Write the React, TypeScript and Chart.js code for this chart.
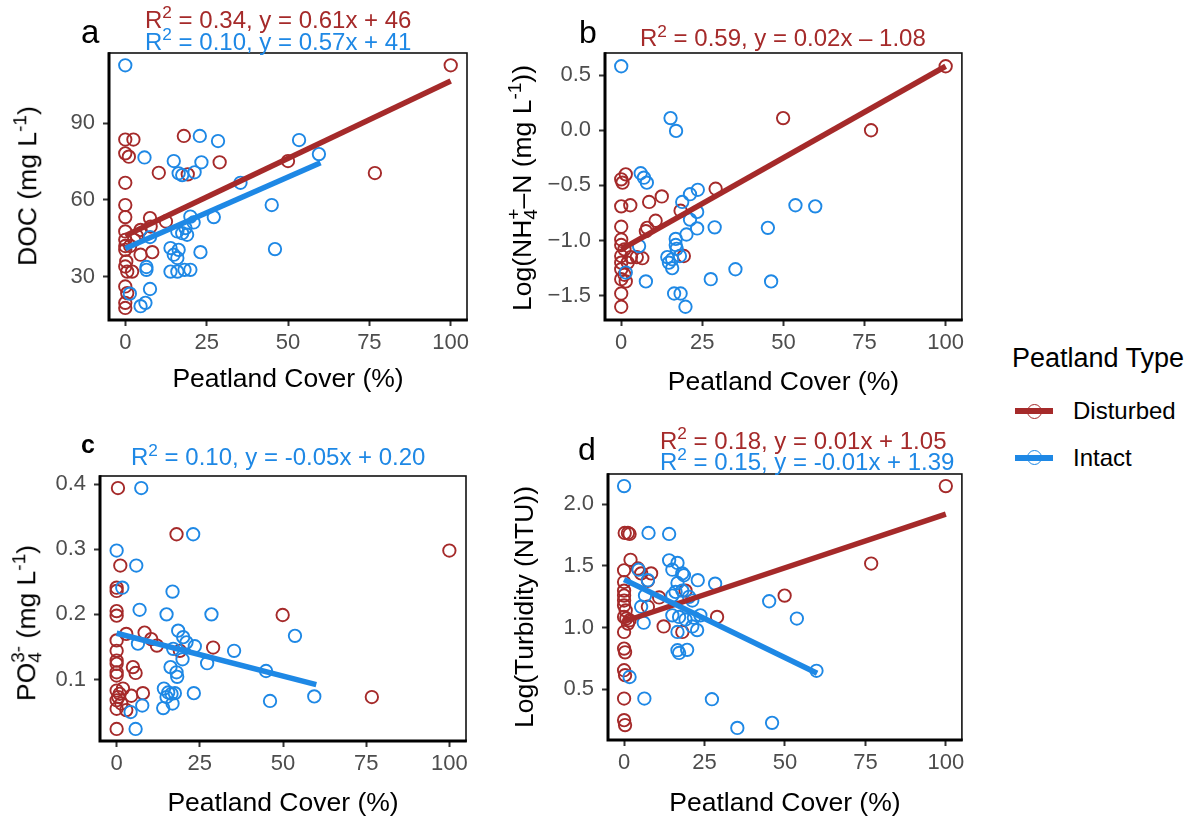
import React, { useEffect, useRef } from "react";
import { Chart, registerables } from "chart.js";
Chart.register(...registerables);

// ---------------- data ----------------
const peatTicks = [0, 25, 50, 75, 100];
const docTicks = [30, 60, 90];
const nh4Ticks = [-1.5, -1.0, -0.5, 0.0, 0.5];
const po4Ticks = [0.1, 0.2, 0.3, 0.4];
const turbTicks = [0.5, 1.0, 1.5, 2.0];

// a: DOC
const docDisturbedX = [100, 76.7, 50, 18, 29, 10.3, 19.2, 0, 2.5, 0, 1.1, 0, 0, 0, 7.6, 0, 4.7, 7.8, 12.5, 0, 2.7, 0, 4.7, 8.3, 0, 0.6, 2.1, 0, 0.6, 0, 0, 0.3, 1.5, 0, 3.5];
const docDisturbedY = [112.6, 70.5, 75.2, 85, 74.7, 70.6, 70, 83.6, 83.6, 78.2, 76.9, 66.7, 58, 53.3, 52.9, 47.7, 48.3, 49.6, 51.6, 44.4, 44.4, 40.5, 38.6, 39.6, 34, 32, 32, 26.2, 23.6, 19.8, 17.8, 36, 42, 42, 46];
const docIntactX = [0, 22.9, 28.5, 5.9, 14.9, 23.4, 16.4, 17.5, 21.3, 35.4, 53.4, 59.5, 45, 46, 27.2, 20, 21, 18.5, 16, 19, 17.5, 7.6, 13.9, 16.4, 14.9, 16, 23.1, 6.5, 6.5, 13.9, 16, 18.2, 20, 7.6, 1.4, 4.7, 6.2];
const docIntactY = [112.6, 85, 83, 76.6, 75.2, 74.7, 70.4, 69.7, 70.8, 66.7, 83.4, 77.9, 58, 40.8, 53.3, 53.5, 51.2, 49, 47.7, 46.4, 47, 45.5, 41.2, 40.5, 38.6, 37.3, 39.6, 33.8, 32.7, 32, 32, 32.7, 32.7, 25.2, 23.4, 18.5, 19.8];
const docDisturbedFitX = [0, 100];
const docDisturbedFitY = [46, 106.5];
const docIntactFitX = [0, 60];
const docIntactFitY = [41, 74.5];

// b: NH4
const nh4DisturbedX = [100, 77, 49.9, 29.1, 12.5, 0, 1.4, 0.4, 0, 2.8, 8.6, 18.3, 0, 10.6, 8, 7.6, 0, 0, 1, 0, 3, 4.8, 6.5, 19.3, 0, 1, 0, 1.4, 0, 0, 0, 2];
const nh4DisturbedY = [0.58, 0, 0.11, -0.53, -0.6, -0.445, -0.4, -0.475, -0.69, -0.68, -0.65, -0.73, -0.875, -0.82, -0.885, -0.915, -0.99, -1.04, -1.08, -1.14, -1.15, -1.15, -1.16, -1.14, -1.26, -1.31, -1.35, -1.37, -1.48, -1.6, -1.2, -1.2];
const nh4IntactX = [0, 15.2, 16.9, 6, 7, 7.9, 23.6, 21.2, 18.8, 23.4, 21.2, 23.4, 28.8, 20.1, 16.8, 16.8, 17.1, 5.5, 14.2, 15.7, 14.7, 18.1, 15.7, 1.4, 7.6, 16.3, 18.3, 19.8, 27.6, 35.2, 45.2, 46.2, 53.7, 59.8];
const nh4IntactY = [0.58, 0.11, -0.006, -0.39, -0.43, -0.475, -0.54, -0.58, -0.65, -0.74, -0.81, -0.89, -0.88, -0.945, -0.985, -1.04, -1.075, -1.05, -1.15, -1.17, -1.2, -1.14, -1.25, -1.29, -1.37, -1.48, -1.48, -1.6, -1.35, -1.26, -0.885, -1.37, -0.68, -0.69];
const nh4DisturbedFitX = [0, 100];
const nh4DisturbedFitY = [-1.08, 0.58];

// c: PO4
const po4DisturbedX = [0.4, 18, 100, 76.7, 49.9, 29, 1.1, 0, 0, 0, 0, 2.9, 8.4, 10.4, 12.1, 19, 0, 0, 0, 0, 0, 0, 4.9, 5.7, 0, 0.9, 1.9, 0, 1.4, 0, 2.9, 4.4, 7.9, 0, 0.5];
const po4DisturbedY = [0.394, 0.323, 0.298, 0.073, 0.199, 0.149, 0.275, 0.241, 0.236, 0.205, 0.198, 0.17, 0.172, 0.162, 0.152, 0.144, 0.16, 0.144, 0.129, 0.124, 0.111, 0.106, 0.119, 0.11, 0.083, 0.078, 0.086, 0.068, 0.063, 0.055, 0.053, 0.075, 0.079, 0.024, 0.073];
const po4IntactX = [7.4, 23, 0, 5.9, 1.7, 16.8, 6.9, 15, 28.5, 53.6, 35.3, 44.9, 46.1, 59.4, 18.5, 20, 21, 23.5, 17, 6.4, 19.8, 27.2, 16.2, 18, 18.2, 14.2, 15.5, 16.5, 17.5, 15, 23.2, 7.7, 14, 16.8, 4.2, 5.7];
const po4IntactY = [0.394, 0.323, 0.298, 0.275, 0.241, 0.235, 0.207, 0.2, 0.2, 0.167, 0.144, 0.113, 0.067, 0.074, 0.175, 0.165, 0.157, 0.151, 0.147, 0.155, 0.131, 0.125, 0.119, 0.111, 0.104, 0.086, 0.08, 0.078, 0.079, 0.073, 0.079, 0.06, 0.056, 0.063, 0.05, 0.024];
const po4IntactFitX = [0, 60];
const po4IntactFitY = [0.171, 0.092];

// d: Turbidity
const turbDisturbedX = [100, 76.8, 49.9, 28.9, 0.2, 1.2, 1.7, 2, 0, 4.3, 5.3, 8.4, 7.4, 0, 0, 0, 0, 0, 0.5, 10.9, 19.1, 0, 0.7, 1.7, 1.2, 7.4, 12.3, 18.1, 0, 0, 0.3, 0, 0.3, 0, 0, 0.3];
const turbDisturbedY = [2.148, 1.52, 1.26, 1.087, 1.768, 1.768, 1.76, 1.55, 1.465, 1.48, 1.44, 1.44, 1.38, 1.37, 1.3, 1.26, 1.22, 1.18, 1.14, 1.245, 1.3, 1.087, 1.074, 1.06, 1.033, 1.17, 1.01, 0.965, 0.965, 0.83, 0.8, 0.655, 0.615, 0.425, 0.25, 0.21];
const turbIntactX = [0, 7.6, 14, 14, 16.6, 15, 18.1, 18.6, 4.5, 7.4, 22.9, 28.3, 16.6, 16, 18.1, 20.2, 21.2, 15, 6.5, 5.3, 6.1, 15, 17.1, 19.1, 21.7, 23.7, 22.7, 16.6, 21.2, 16.6, 17.1, 19.6, 1.7, 6.3, 27.3, 35.2, 46, 45.1, 53.7, 59.8];
const turbIntactY = [2.148, 1.768, 1.76, 1.546, 1.525, 1.47, 1.44, 1.425, 1.47, 1.385, 1.385, 1.357, 1.362, 1.29, 1.3, 1.25, 1.22, 1.26, 1.26, 1.17, 1.04, 1.1, 1.087, 1.066, 1.08, 1.1, 0.98, 0.965, 1.01, 0.817, 0.795, 0.82, 0.6, 0.425, 0.42, 0.187, 0.228, 1.214, 1.074, 0.65];
const turbDisturbedFitX = [0, 100];
const turbDisturbedFitY = [1.05, 1.92];
const turbIntactFitX = [0, 60];
const turbIntactFitY = [1.39, 0.63];

// ---------------- styles ----------------
const RED = "#A52A2A";
const BLUE = "#1E88E5";
const FONT = "'Liberation Sans', Arial, Helvetica, sans-serif";

const zip = (xs: number[], ys: number[]) => xs.map((x, i) => ({ x, y: ys[i] }));

const boxPlugin = {
  id: "panelBox",
  afterDatasetsDraw(chart: any) {
    const { ctx, chartArea } = chart;
    const { left, right, top, bottom } = chartArea;
    ctx.save();
    ctx.strokeStyle = "#111";
    ctx.lineWidth = 1.6;
    ctx.strokeRect(left, top, right - left, bottom - top);
    ctx.strokeStyle = "#000";
    ctx.lineWidth = 3;
    ctx.beginPath();
    ctx.moveTo(left, top - 0.8);
    ctx.lineTo(left, bottom);
    ctx.lineTo(right + 0.8, bottom);
    ctx.stroke();
    ctx.restore();
  },
};

type Series = { x: number[]; y: number[]; color: string };
type PanelProps = {
  left: number; top: number; width: number; height: number;
  area: { l: number; r: number; t: number; b: number };
  yMin: number; yMax: number; yTicks: number[]; yDec: number;
  points: Series[]; fits: Series[]; xTitlePad: number;
};

function Panel(p: PanelProps) {
  const ref = useRef<HTMLCanvasElement>(null);
  useEffect(() => {
    const fmtY = (v: number) => v.toFixed(p.yDec).replace("-", "\u2212");
    const datasets: any[] = [];
    p.fits.forEach((f) => {
      datasets.push({
        data: zip(f.x, f.y), showLine: true, borderColor: f.color, borderWidth: 5.5,
        borderCapStyle: "butt", pointRadius: 0, fill: false, order: f.color === BLUE ? 0 : 1, clip: false,
      });
    });
    p.points.forEach((s) => {
      datasets.push({
        data: zip(s.x, s.y), showLine: false, borderColor: s.color, backgroundColor: "rgba(0,0,0,0)",
        pointRadius: 6.2, pointBorderWidth: 1.9, pointStyle: "circle", order: s.color === BLUE ? 2 : 3, clip: false,
      });
    });
    const tickGrid = { display: true, drawOnChartArea: false, drawTicks: true, tickLength: 6, tickWidth: 2, tickColor: "#333" };
    const chart = new Chart(ref.current!, {
      type: "scatter",
      data: { datasets },
      plugins: [boxPlugin],
      options: {
        animation: false, responsive: false, maintainAspectRatio: false, events: [],
        layout: { padding: { left: 0, top: p.area.t, right: p.width - p.area.r, bottom: 0 } },
        plugins: { legend: { display: false }, tooltip: { enabled: false }, title: { display: false } },
        scales: {
          x: {
            type: "linear", position: "bottom", min: -5, max: 105,
            afterBuildTicks: (s: any) => { s.ticks = peatTicks.map((v) => ({ value: v })); },
            afterFit: (s: any) => { s.height = p.height - p.area.b; s.paddingLeft = 0; s.paddingRight = 0; },
            ticks: { autoSkip: false, maxRotation: 0, padding: 4, color: "#4D4D4D", font: { family: FONT, size: 22 }, callback: (v: any) => String(v) },
            grid: tickGrid, border: { display: false },
            title: { display: true, text: "Peatland Cover (%)", color: "#000", font: { family: FONT, size: 26.5 }, padding: { top: 0, bottom: p.xTitlePad } },
          },
          y: {
            type: "linear", position: "left", min: p.yMin, max: p.yMax,
            afterBuildTicks: (s: any) => { s.ticks = p.yTicks.map((v) => ({ value: v })); },
            afterFit: (s: any) => { s.width = p.area.l; s.paddingTop = 0; s.paddingBottom = 0; },
            ticks: { autoSkip: false, padding: 8, color: "#4D4D4D", font: { family: FONT, size: 22 }, callback: (v: any) => fmtY(Number(v)) },
            grid: tickGrid, border: { display: false },
            title: { display: false },
          },
        },
      } as any,
    });
    return () => chart.destroy();
  }, []);
  return (
    <canvas ref={ref} width={p.width} height={p.height}
      style={{ position: "absolute", left: p.left, top: p.top, width: p.width, height: p.height }} />
  );
}

function TextAt(props: { left: number; baseline: number; size: number; color?: string; bold?: boolean; children: any }) {
  const { left, baseline, size, color = "#000", bold = false, children } = props;
  return (
    <div style={{
      position: "absolute", left, top: baseline - 0.8465 * size, fontSize: size, lineHeight: `${size}px`,
      whiteSpace: "nowrap", color, fontWeight: bold ? 700 : 400, fontFamily: FONT,
    }}>{children}</div>
  );
}

function VText(props: { cx: number; cy: number; size: number; children: any }) {
  return (
    <div style={{
      position: "absolute", left: props.cx, top: props.cy, fontSize: props.size, lineHeight: `${props.size}px`,
      whiteSpace: "nowrap", color: "#000", fontFamily: FONT, transform: "translate(-50%, -50%) rotate(-90deg)",
    }}>{props.children}</div>
  );
}

const Sup = ({ children }: any) => (
  <span style={{ fontSize: "0.72em", position: "relative", top: "-0.55em" }}>{children}</span>
);
const SubSup = ({ sub, sup, supShift }: any) => (
  <span>
    <span style={{ fontSize: "0.72em", position: "relative", top: "0.3em" }}>{sub}</span>
    <span style={{ fontSize: "0.72em", position: "relative", top: "-0.6em", marginLeft: supShift }}>{sup}</span>
  </span>
);

function LegendItem(props: { cy: number; color: string; label: string }) {
  const { cy, color, label } = props;
  return (
    <>
      <div style={{ position: "absolute", left: 1015, top: cy - 3, width: 38, height: 6, background: color }} />
      <div style={{
        position: "absolute", left: 1034 - 7.5, top: cy - 7.5, width: 15, height: 15, borderRadius: "50%",
        border: `1.9px solid ${color}`, boxSizing: "border-box",
      }} />
      <TextAt left={1073} baseline={cy + 8.5} size={24}>{label}</TextAt>
    </>
  );
}

export default function App() {
  return (
    <div style={{ position: "absolute", left: 0, top: 0, width: 1202, height: 820, background: "#fff", overflow: "hidden", fontFamily: FONT }}>
      <Panel left={0} top={0} width={480} height={400} area={{ l: 109, r: 467, t: 53, b: 320 }}
        yMin={13.1} yMax={117.4} yTicks={docTicks} yDec={0} xTitlePad={4}
        points={[{ x: docDisturbedX, y: docDisturbedY, color: RED }, { x: docIntactX, y: docIntactY, color: BLUE }]}
        fits={[{ x: docDisturbedFitX, y: docDisturbedFitY, color: RED }, { x: docIntactFitX, y: docIntactFitY, color: BLUE }]} />
      <Panel left={480} top={0} width={490} height={400} area={{ l: 125, r: 483, t: 53, b: 320 }}
        yMin={-1.72} yMax={0.7} yTicks={nh4Ticks} yDec={1} xTitlePad={1}
        points={[{ x: nh4DisturbedX, y: nh4DisturbedY, color: RED }, { x: nh4IntactX, y: nh4IntactY, color: BLUE }]}
        fits={[{ x: nh4DisturbedFitX, y: nh4DisturbedFitY, color: RED }]} />
      <Panel left={0} top={400} width={480} height={420} area={{ l: 100, r: 466, t: 76, b: 341 }}
        yMin={0.0055} yMax={0.4125} yTicks={po4Ticks} yDec={1} xTitlePad={0}
        points={[{ x: po4DisturbedX, y: po4DisturbedY, color: RED }, { x: po4IntactX, y: po4IntactY, color: BLUE }]}
        fits={[{ x: po4IntactFitX, y: po4IntactFitY, color: BLUE }]} />
      <Panel left={480} top={400} width={490} height={420} area={{ l: 128, r: 486, t: 74, b: 340 }}
        yMin={0.089} yMax={2.246} yTicks={turbTicks} yDec={1} xTitlePad={0}
        points={[{ x: turbDisturbedX, y: turbDisturbedY, color: RED }, { x: turbIntactX, y: turbIntactY, color: BLUE }]}
        fits={[{ x: turbDisturbedFitX, y: turbDisturbedFitY, color: RED }, { x: turbIntactFitX, y: turbIntactFitY, color: BLUE }]} />

      {/* panel letters */}
      <TextAt left={81} baseline={42.5} size={33}>a</TextAt>
      <TextAt left={579} baseline={43.5} size={32}>b</TextAt>
      <TextAt left={81} baseline={453.5} size={25} bold>c</TextAt>
      <TextAt left={578} baseline={460} size={32}>d</TextAt>

      {/* regression annotations */}
      <TextAt left={145} baseline={28} size={24} color={RED}>R<Sup>2</Sup> = 0.34, y = 0.61x + 46</TextAt>
      <TextAt left={145} baseline={50} size={24} color={BLUE}>R<Sup>2</Sup> = 0.10, y = 0.57x + 41</TextAt>
      <TextAt left={640} baseline={46.7} size={24} color={RED}>R<Sup>2</Sup> = 0.59, y = 0.02x – 1.08</TextAt>
      <TextAt left={131} baseline={465.7} size={24} color={BLUE}>R<Sup>2</Sup> = 0.10, y = -0.05x + 0.20</TextAt>
      <TextAt left={660} baseline={449} size={24} color={RED}>R<Sup>2</Sup> = 0.18, y = 0.01x + 1.05</TextAt>
      <TextAt left={660} baseline={470} size={24} color={BLUE}>R<Sup>2</Sup> = 0.15, y = -0.01x + 1.39</TextAt>

      {/* y axis titles */}
      <VText cx={29} cy={186} size={26.5}>DOC (mg L<Sup>-1</Sup>)</VText>
      <VText cx={524} cy={187.5} size={26.5}>Log(NH<SubSup sub="4" sup="+" supShift="-0.56em" />–N (mg L<Sup>-1</Sup>))</VText>
      <VText cx={28} cy={623} size={26.5}>PO<SubSup sub="4" sup="3-" supShift="-0.56em" /> (mg L<Sup>-1</Sup>)</VText>
      <VText cx={524} cy={606.5} size={26.5}>Log(Turbidity (NTU))</VText>

      {/* legend */}
      <TextAt left={1012} baseline={368} size={27}>Peatland Type</TextAt>
      <LegendItem cy={411} color={RED} label="Disturbed" />
      <LegendItem cy={457.5} color={BLUE} label="Intact" />
    </div>
  );
}
